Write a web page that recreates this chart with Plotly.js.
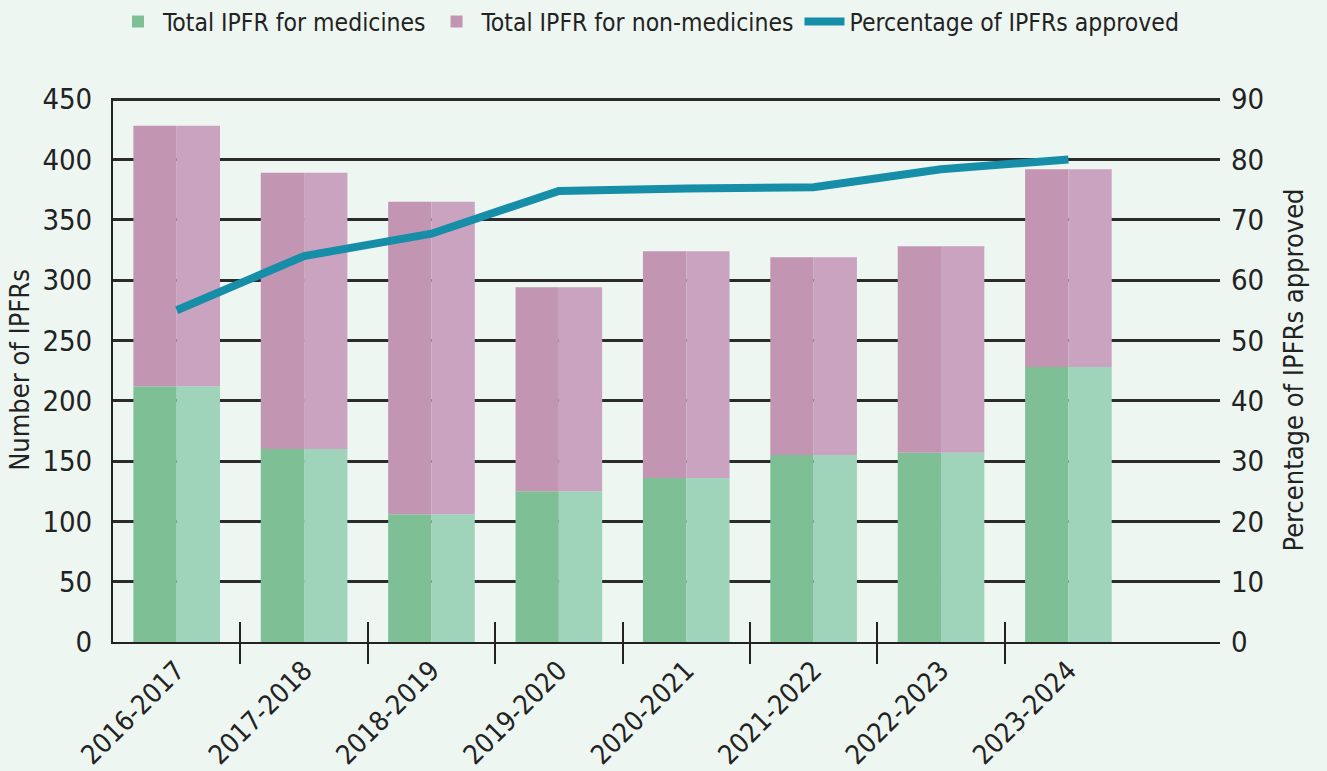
<!DOCTYPE html>
<html>
<head>
<meta charset="utf-8">
<script src="https://cdn.plot.ly/plotly-3.0.1.min.js"></script>
<style>
  html, body { margin: 0; padding: 0; background: #eef6f1; }
  #chart { width: 1327px; height: 771px; }
</style>
</head>
<body>
<div id="chart"></div>
<script>
// years of the IPFR reports
var years = ['2016-2017', '2017-2018', '2018-2019', '2019-2020', '2020-2021', '2021-2022', '2022-2023', '2023-2024'];
var medicines = [212, 160, 106, 125, 136, 155, 157, 228];
var nonMedicines = [216, 229, 259, 169, 188, 164, 171, 164];
var pctApproved = [55, 64, 67.7, 74.8, 75.2, 75.4, 78.4, 80];
var boundaryTicks = [0.5, 1.5, 2.5, 3.5, 4.5, 5.5, 6.5];

var font = '"DejaVu Sans Condensed", "Liberation Sans Narrow", sans-serif';
var xRange = [-0.5, 8.19];

function halfBar(name, y, base, color, offset, showLegend) {
  return {
    type: 'bar',
    name: name,
    x: years,
    y: y,
    base: base,
    width: 0.34,
    offset: offset,
    marker: { color: color, line: { width: 0 } },
    legendgroup: name,
    showlegend: showLegend,
    hoverinfo: 'skip'
  };
}

// invisible helper trace so the boundary tick axes get drawn
function tickHolder(xa) {
  return {
    type: 'scatter',
    mode: 'none',
    x: boundaryTicks,
    y: boundaryTicks.map(function () { return 0; }),
    xaxis: xa,
    showlegend: false,
    hoverinfo: 'skip'
  };
}

var data = [
  halfBar('Total IPFR for medicines', medicines, null, '#7fbf96', -0.34, true),
  halfBar('Total IPFR for medicines', medicines, null, '#9fd4ba', 0, false),
  halfBar('Total IPFR for non-medicines', nonMedicines, medicines, '#c295b3', -0.34, true),
  halfBar('Total IPFR for non-medicines', nonMedicines, medicines, '#caa3c0', 0, false),
  {
    type: 'scatter',
    mode: 'lines',
    name: 'Percentage of IPFRs approved',
    x: years,
    y: pctApproved,
    yaxis: 'y2',
    line: { color: '#168ea8', width: 8 }
  },
  tickHolder('x2'),
  tickHolder('x3')
];

var tickAxis = function (dir, len) {
  return {
    overlaying: 'x',
    anchor: 'y',
    type: 'linear',
    range: xRange,
    tickmode: 'array',
    tickvals: boundaryTicks,
    ticks: dir,
    ticklen: len,
    tickwidth: 2,
    tickcolor: '#222',
    showticklabels: false,
    showgrid: false,
    zeroline: false,
    showline: false
  };
};

var layout = {
  width: 1327,
  height: 771,
  paper_bgcolor: '#eef6f1',
  plot_bgcolor: '#eef6f1',
  margin: { l: 113, r: 107, t: 98, b: 129 },
  barmode: 'overlay',
  font: { family: font, size: 29, color: '#222' },
  showlegend: true,
  legend: {
    orientation: 'h',
    x: 0,
    xanchor: 'left',
    yref: 'container',
    y: 0.972,
    yanchor: 'middle',
    font: { size: 24.5, color: '#222' },
    itemwidth: 40,
    traceorder: 'normal'
  },
  xaxis: {
    type: 'category',
    range: xRange,
    tickangle: -45,
    ticks: '',
    showgrid: false,
    showline: true,
    linecolor: '#222',
    linewidth: 2,
    tickfont: { size: 27 }
  },
  xaxis2: tickAxis('outside', 21),
  xaxis3: tickAxis('inside', 20),
  yaxis: {
    range: [0, 451],
    dtick: 50,
    showgrid: true,
    gridcolor: '#2b2b2b',
    gridwidth: 3,
    zeroline: false,
    showline: true,
    linecolor: '#222',
    linewidth: 2,
    ticks: '',
    ticklabelstandoff: 13,
    title: { text: 'Number of IPFRs', font: { size: 27 }, standoff: 5 }
  },
  yaxis2: {
    overlaying: 'y',
    side: 'right',
    range: [0, 90.2],
    dtick: 10,
    showgrid: false,
    zeroline: false,
    showline: false,
    ticks: '',
    ticklabelstandoff: 10,
    title: { text: 'Percentage of IPFRs approved', font: { size: 27 }, standoff: 20 }
  }
};

Plotly.newPlot('chart', data, layout, { displayModeBar: false, staticPlot: true });
</script>
</body>
</html>
